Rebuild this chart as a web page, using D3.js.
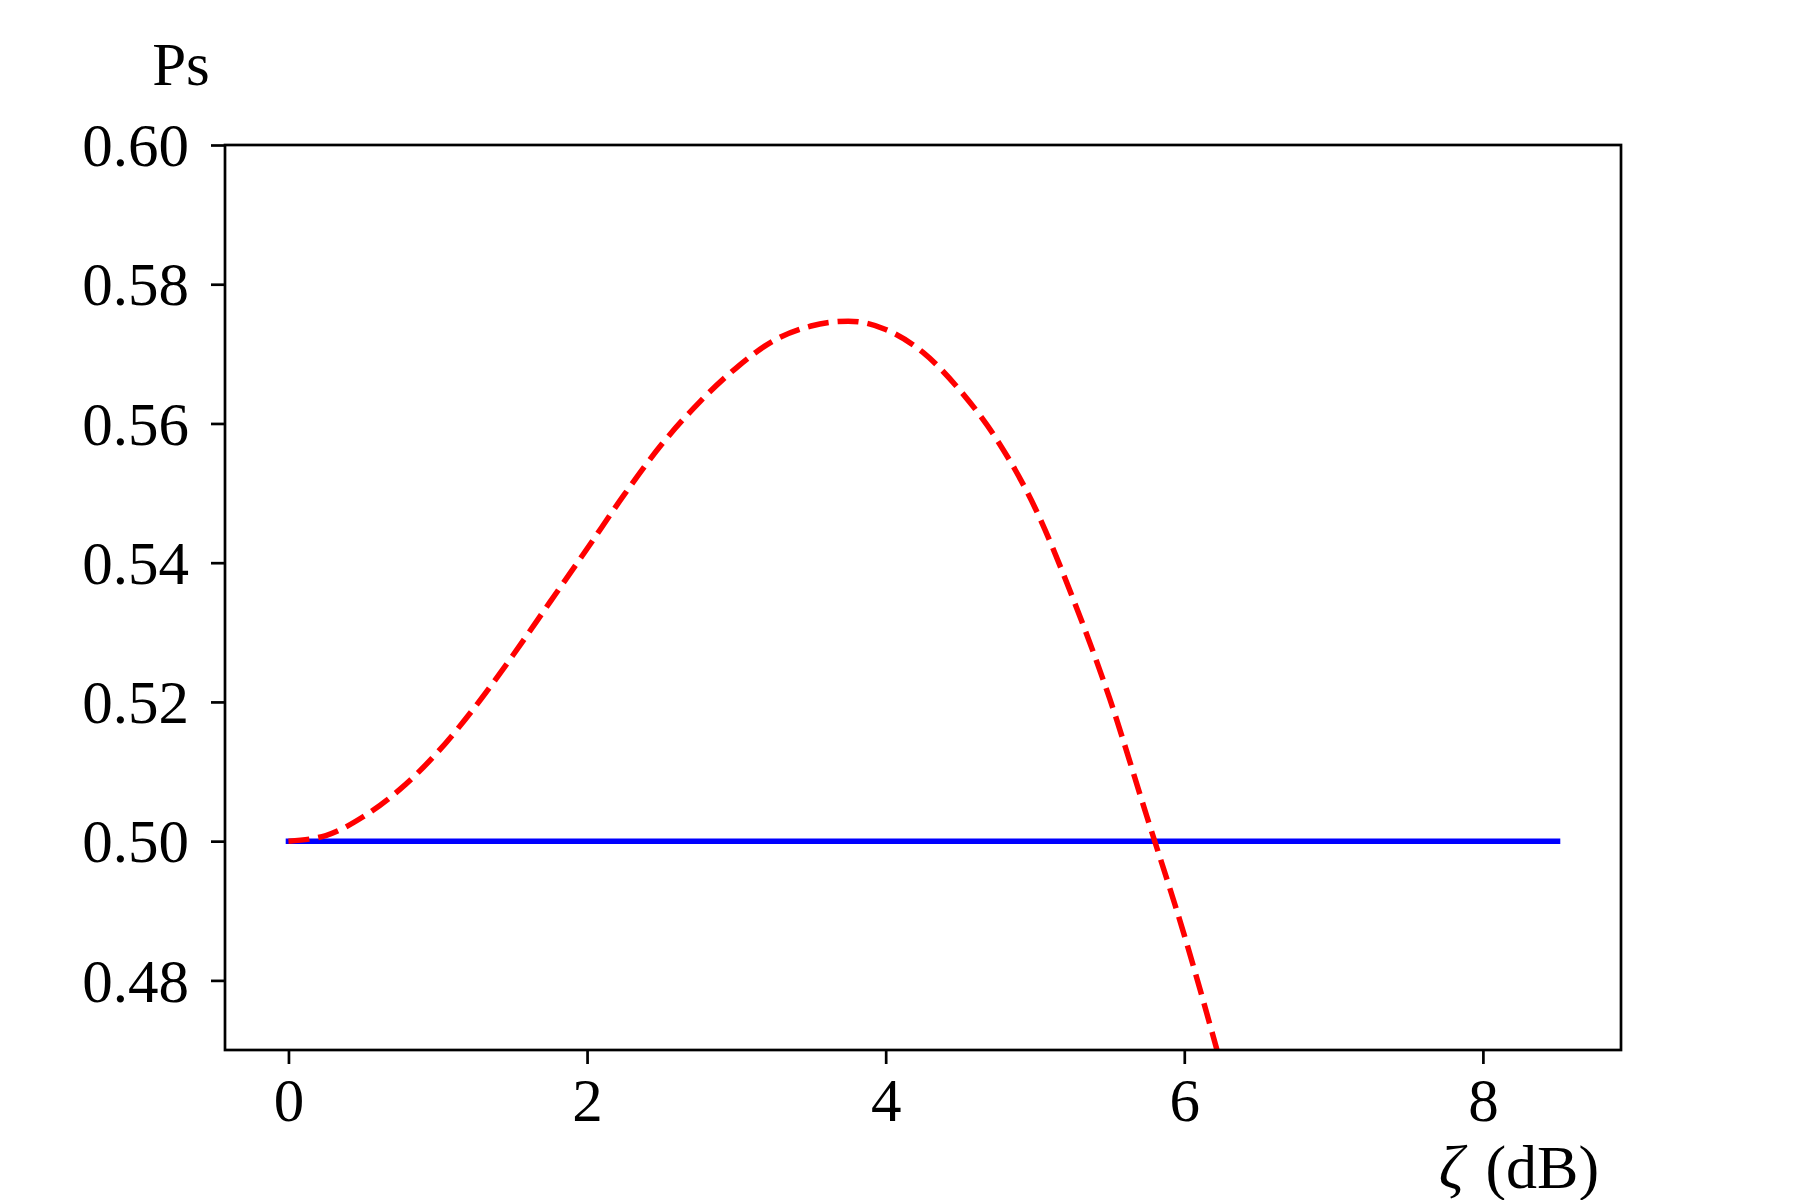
<!DOCTYPE html>
<html>
<head>
<meta charset="utf-8">
<script src="https://cdn.jsdelivr.net/npm/d3@7"></script>
<style>
    body { margin: 0; background: #fff; }
    svg text { font-family: "Liberation Serif", "DejaVu Serif", serif; fill: #000; }
</style>
</head>
<body>
<div id="chart"></div>
<script>
// red dashed curve
var zeta = [0, 0.25, 0.5, 0.75, 1.0, 1.25, 1.5, 1.75, 2.0, 2.25, 2.5, 2.75, 3.0, 3.25,
    3.5, 3.75, 4.0, 4.25, 4.5, 4.75, 5.0, 5.25, 5.5, 5.75, 6.0, 6.25];
var psCurve = [0.5000, 0.5008, 0.5035, 0.5075, 0.5128, 0.5193, 0.5266, 0.5343, 0.5420,
    0.5498, 0.5570, 0.5630, 0.5680, 0.5719, 0.5740, 0.5747, 0.5735, 0.5702, 0.5647,
    0.5575, 0.5479, 0.5351, 0.5205, 0.5035, 0.4865, 0.4676];

// blue flat line
var zetaFlat = [0, 8.5];
var psFlat = [0.5, 0.5];

var xTicks = [0, 2, 4, 6, 8];
var yTicks = [0.48, 0.50, 0.52, 0.54, 0.56, 0.58, 0.60];

var width = 1800, height = 1200;
var plotLeft = 225, plotRight = 1621, plotTop = 145, plotBottom = 1050;

var svg = d3.select("#chart")
    .append("svg")
    .attr("width", width)
    .attr("height", height);

var x = d3.scaleLinear().domain([-0.425, 8.925]).range([plotLeft, plotRight]);
var y = d3.scaleLinear().domain([0.47, 0.60]).range([plotBottom, plotTop]);

svg.append("clipPath")
    .attr("id", "plot-clip")
    .append("rect")
    .attr("x", plotLeft).attr("y", plotTop)
    .attr("width", plotRight - plotLeft).attr("height", plotBottom - plotTop);

var line = d3.line()
    .x((d) => x(d[0]))
    .y((d) => y(d[1]))
    .curve(d3.curveMonotoneX);

svg.append("path")
    .datum(zetaFlat.map((v, i) => [v, psFlat[i]]))
    .attr("d", line)
    .attr("fill", "none")
    .attr("stroke", "#0000ff")
    .attr("stroke-width", 5.5)
    .attr("stroke-linecap", "square")
    .attr("clip-path", "url(#plot-clip)");

svg.append("path")
    .datum(zeta.map((v, i) => [v, psCurve[i]]))
    .attr("d", line)
    .attr("fill", "none")
    .attr("stroke", "#ff0000")
    .attr("stroke-width", 5.5)
    .attr("stroke-dasharray", "21 9")
    .attr("clip-path", "url(#plot-clip)");

// axes
var xAxis = d3.axisBottom(x)
    .tickValues(xTicks)
    .tickFormat(d3.format("d"))
    .tickSize(14)
    .tickPadding(14);

var yAxis = d3.axisLeft(y)
    .tickValues(yTicks)
    .tickFormat(d3.format(".2f"))
    .tickSize(14)
    .tickPadding(22);

var gx = svg.append("g")
    .attr("transform", "translate(0," + plotBottom + ")")
    .call(xAxis);
var gy = svg.append("g")
    .attr("transform", "translate(" + plotLeft + ",0)")
    .call(yAxis);

[gx, gy].forEach(function (g) {
    g.select(".domain").remove();
    g.selectAll(".tick line").attr("stroke", "#000").attr("stroke-width", 2.7);
    g.selectAll(".tick text").style("font-size", "61px");
});
gx.selectAll(".tick text").attr("dy", "0.71em");
gy.selectAll(".tick text").attr("dy", "0.34em");

svg.append("rect")
    .attr("x", plotLeft).attr("y", plotTop)
    .attr("width", plotRight - plotLeft).attr("height", plotBottom - plotTop)
    .attr("fill", "none")
    .attr("stroke", "#000")
    .attr("stroke-width", 2.7);

svg.append("text")
    .attr("x", 181)
    .attr("y", 85)
    .attr("text-anchor", "middle")
    .style("font-size", "61px")
    .text("Ps");

var xl = svg.append("text")
    .attr("x", 1519)
    .attr("y", 1188)
    .attr("text-anchor", "middle")
    .style("font-size", "62px")
    .style("word-spacing", "6px");
xl.append("tspan").style("font-style", "italic").text("ζ");
xl.append("tspan").text(" (dB)");
</script>
</body>
</html>
